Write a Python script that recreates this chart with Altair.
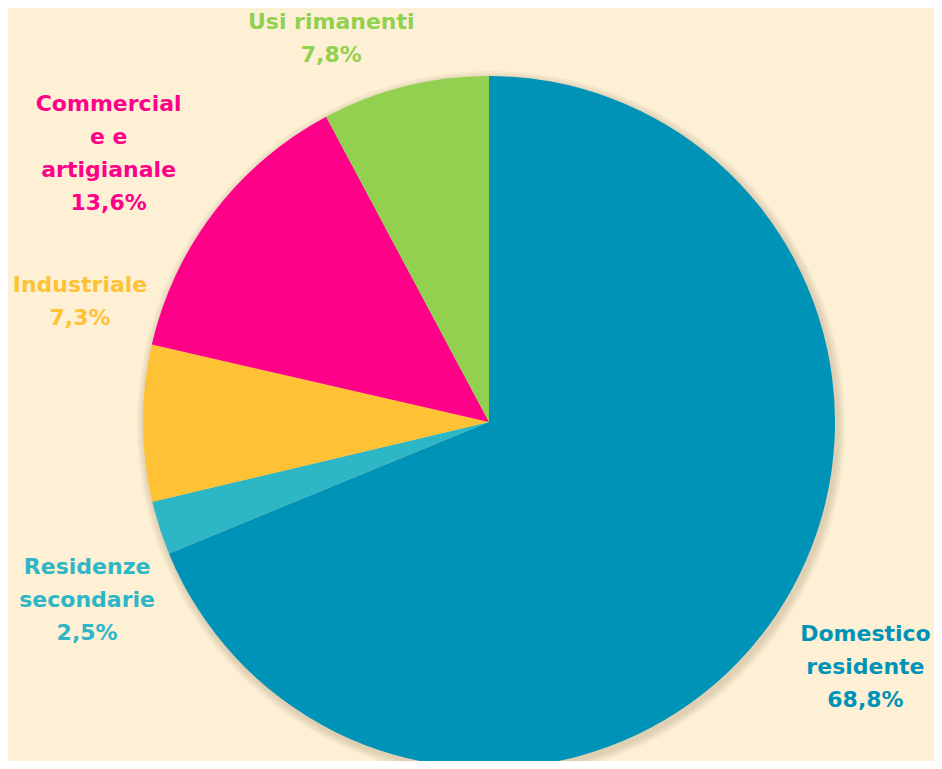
import altair as alt
import pandas as pd

categories = ["Domestico residente", "Residenze secondarie", "Industriale",
              "Commerciale e artigianale", "Usi rimanenti"]
values = [68.8, 2.5, 7.3, 13.6, 7.8]
labels = ["Domestico\nresidente\n68,8%", "Residenze\nsecondarie\n2,5%",
          "Industriale\n7,3%", "Commercial\ne e\nartigianale\n13,6%",
          "Usi rimanenti\n7,8%"]
colors = ["#0093B8", "#2DB6C5", "#FFC234", "#FF0089", "#92D050"]

df = pd.DataFrame({"cat": categories, "value": values, "label": labels,
                   "order": list(range(len(categories)))})
total = sum(values)

CX, CY, R = 481, 414, 346
theta_scale = alt.Scale(domain=[0, total])
color_scale = alt.Scale(domain=categories, range=colors)

base = alt.Chart(df)

# soft shadow
shadow_df = pd.DataFrame({"value": [total]})
shadows = []
for r in [348, 350, 352, 354]:
    shadows.append(
        alt.Chart(shadow_df).mark_arc(color="#7a6a4a", opacity=0.06).encode(
            theta=alt.Theta("value:Q", scale=theta_scale),
            x=alt.value(CX + 2), y=alt.value(CY + 3), radius=alt.value(r)
        )
    )

pie = base.mark_arc(stroke=None).encode(
    theta=alt.Theta("value:Q", stack=True, scale=theta_scale),
    order=alt.Order("order:Q"),
    color=alt.Color("cat:N", scale=color_scale, legend=None),
    x=alt.value(CX), y=alt.value(CY), radius=alt.value(R),
)

offsets = [(11, -33), (17, 10), (31, -138), (-31, -51), (-51, 27)]
texts = []
for i, (dx, dy) in enumerate(offsets):
    texts.append(
        base.transform_window(cum="sum(value)", sort=[{"field": "order"}])
        .transform_calculate(mid="datum.cum - datum.value / 2")
        .transform_filter(f"datum.order == {i}")
        .mark_text(font="DejaVu Sans", fontWeight="bold", fontSize=22,
                   lineHeight=33, lineBreak="\n", align="center",
                   baseline="middle", dx=dx, dy=dy)
        .encode(
            theta=alt.Theta("mid:Q", stack=None, scale=theta_scale),
            radius=alt.value(440),
            x=alt.value(CX), y=alt.value(CY),
            text="label:N",
            color=alt.Color("cat:N", scale=color_scale, legend=None),
        )
    )

chart = alt.layer(*shadows, pie, *texts).properties(
    width=926, height=753, background="#FDF0D5", padding=0,
    autosize=alt.AutoSizeParams(type="none"),
).configure_view(stroke=None)

chart.save("out.html", embed_options={"renderer": "svg", "actions": False})
